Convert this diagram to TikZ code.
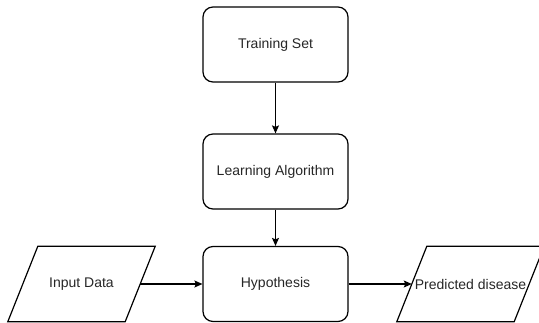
\documentclass[tikz,border=0pt]{standalone}
\usepackage{fontspec}
\setmainfont{Liberation Sans}
\usetikzlibrary{arrows.meta,calc}
\begin{document}
\begin{tikzpicture}[x=1pt,y=-1pt,
  box/.style={draw,line width=1.2pt,rounded corners=10pt,minimum width=145pt,minimum height=75pt,inner sep=0pt,font=\fontsize{14}{16}\selectfont,text=black!85},
  para/.style={minimum width=117pt,minimum height=75pt,inner sep=0pt,font=\fontsize{14}{16}\selectfont,text=black!85},
  parashape/.style={draw,line width=1.2pt},
  conn/.style={line width=1.2pt,-{Stealth[length=8pt,width=7pt,inset=1.5pt]}}]
\useasboundingbox (0,0) rectangle (539,323);
\node[box] (ts) at (275.5,44.5) {Training Set};
\node[box] (la) at (275.5,171.5) {Learning Algorithm};
\node[box] (hy) at (275.5,284) {Hypothesis};
\node[para] (in) at (81.5,284) {Input Data};
\node[para] (pd) at (470.5,284) {Predicted disease};
\foreach \n in {in,pd}{
  \draw[parashape] ($(\n.north west)+(15,0)$) -- ($(\n.north east)+(15,0)$) -- ($(\n.south east)+(-15,0)$) -- ($(\n.south west)+(-15,0)$) -- cycle;
}
\draw[conn] (ts) -- (la);
\draw[conn] (la) -- (hy);
\draw[conn] (in.east) -- (hy.west);
\draw[conn] (hy.east) -- (pd.west);
\end{tikzpicture}
\end{document}
